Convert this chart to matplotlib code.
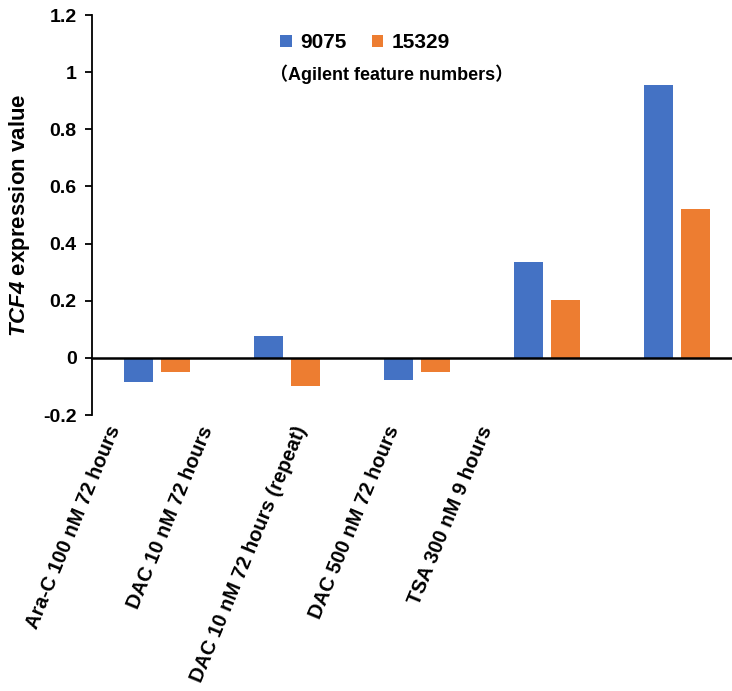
import numpy as np
import matplotlib
matplotlib.use('Agg')
import matplotlib.pyplot as plt

plt.rcParams['font.family'] = ['Liberation Sans', 'Noto Sans CJK SC', 'DejaVu Sans']
plt.rcParams['font.weight'] = 'bold'
plt.rcParams['mathtext.fontset'] = 'custom'
plt.rcParams['mathtext.rm'] = 'Liberation Sans:bold'
plt.rcParams['mathtext.bfit'] = 'Liberation Sans:italic:bold'

categories = ['Ara-C 100 nM 72 hours', 'DAC 10 nM 72 hours', 'DAC 10 nM 72 hours (repeat)',
              'DAC 500 nM 72 hours', 'TSA 300 nM 9 hours']
series_names = ['9075', '15329']
vals_9075 = [-0.083, 0.077, -0.076, 0.336, 0.955]
vals_15329 = [-0.050, -0.100, -0.050, 0.203, 0.520]
colors = ['#4472C4', '#ED7D31']

W, H = 732, 691
fig = plt.figure(figsize=(W / 100, H / 100), dpi=100)
ax = fig.add_axes([92 / W, (H - 415) / H, 650 / W, 400 / H])

x = np.arange(len(categories))
bw = 0.223
off = 0.142
ax.bar(x - off, vals_9075, bw, color=colors[0], label=series_names[0])
ax.bar(x + off, vals_15329, bw, color=colors[1], label=series_names[1])

ax.set_xlim(-0.5, len(categories) - 0.5)
ax.set_ylim(-0.2, 1.2)
ax.set_yticks(np.arange(-0.2, 1.21, 0.2))
ax.set_yticklabels(['-0.2', '0', '0.2', '0.4', '0.6', '0.8', '1', '1.2'])
ax.tick_params(axis='y', direction='out', length=5, width=1.3, pad=6, labelsize=14)
ax.set_xticks([])
for s in ['top', 'right', 'bottom']:
    ax.spines[s].set_visible(False)
ax.spines['left'].set_linewidth(1.3)
ax.axhline(0, color='black', lw=1.8, clip_on=False)

ax.set_ylabel(r'$\mathbfit{TCF4}$ expression value', fontsize=16, fontweight='bold', labelpad=8)

# category labels sit on their own narrower strip, as in the source image
lab = fig.add_axes([60 / W, (H - 423) / H, 465 / W, 0.001])
lab.set_xlim(-0.5, len(categories) - 0.5)
lab.set_xticks(x)
lab.set_xticklabels(categories, rotation=67.5, ha='right', va='top',
                    rotation_mode='anchor', fontsize=14.5, fontweight='bold')
lab.tick_params(axis='x', length=0, pad=0)
lab.set_yticks([])
lab.set_frame_on(False)
lab.patch.set_alpha(0)

leg = ax.legend(loc='upper center', bbox_to_anchor=(273 / 650, 1 - 10 / 400), ncol=2,
                frameon=False, fontsize=15, handlelength=0.55, handleheight=0.55,
                handletextpad=0.4, columnspacing=1.2, borderaxespad=0)
for t in leg.get_texts():
    t.set_fontweight('bold')
fig.text(392 / W, 1 - 74 / H, '（Agilent feature numbers）', ha='center', va='center',
         fontsize=13, fontweight='bold')

fig.savefig('out.png', dpi=100)
